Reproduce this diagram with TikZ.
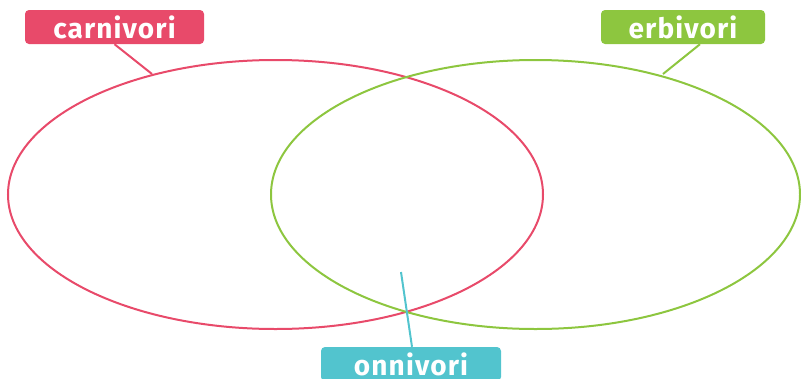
\documentclass[tikz,border=0pt]{standalone}
\usepackage{fontspec}
\setmainfont{Fira Sans}
\definecolor{carnred}{HTML}{E84A6A}
\definecolor{erbgreen}{HTML}{8DC63F}
\definecolor{onncyan}{HTML}{52C4CE}
\tikzset{
  tag/.style={rounded corners=4pt, text=white,
    font=\fontsize{28}{28}\selectfont\bfseries\addfontfeature{LetterSpace=4},
    minimum height=34pt, inner sep=0pt},
  ring/.style={line width=2pt}
}
\begin{document}
\begin{tikzpicture}[x=1pt,y=-1pt]
    \useasboundingbox (0,0) rectangle (801,378);
    \clip (0,0) rectangle (801,378);
    % the two sets
    \draw[ring, carnred] (275.5,194.5) ellipse [x radius=267.5, y radius=134.5];
    \draw[ring, erbgreen] (535.5,194.5) ellipse [x radius=264.5, y radius=134.5];
    % labels
    \node[tag, fill=carnred, minimum width=179pt] (carn) at (114.5,27) {carnivori};
    \node[tag, fill=erbgreen, minimum width=164pt] (erb) at (683,27) {erbivori};
    \node[tag, fill=onncyan, minimum width=180pt] (onn) at (411,364) {onnivori};
    \coordinate (cpt) at (152,74);
    \coordinate (ept) at (663,74);
    \coordinate (opt) at (401,272);
    \draw[ring, carnred] (carn.south) -- (cpt);
    \draw[ring, erbgreen] ([xshift=17pt]erb.south) -- (ept);
    \draw[ring, onncyan] ([xshift=1pt]onn.north) -- (opt);
\end{tikzpicture}
\end{document}
